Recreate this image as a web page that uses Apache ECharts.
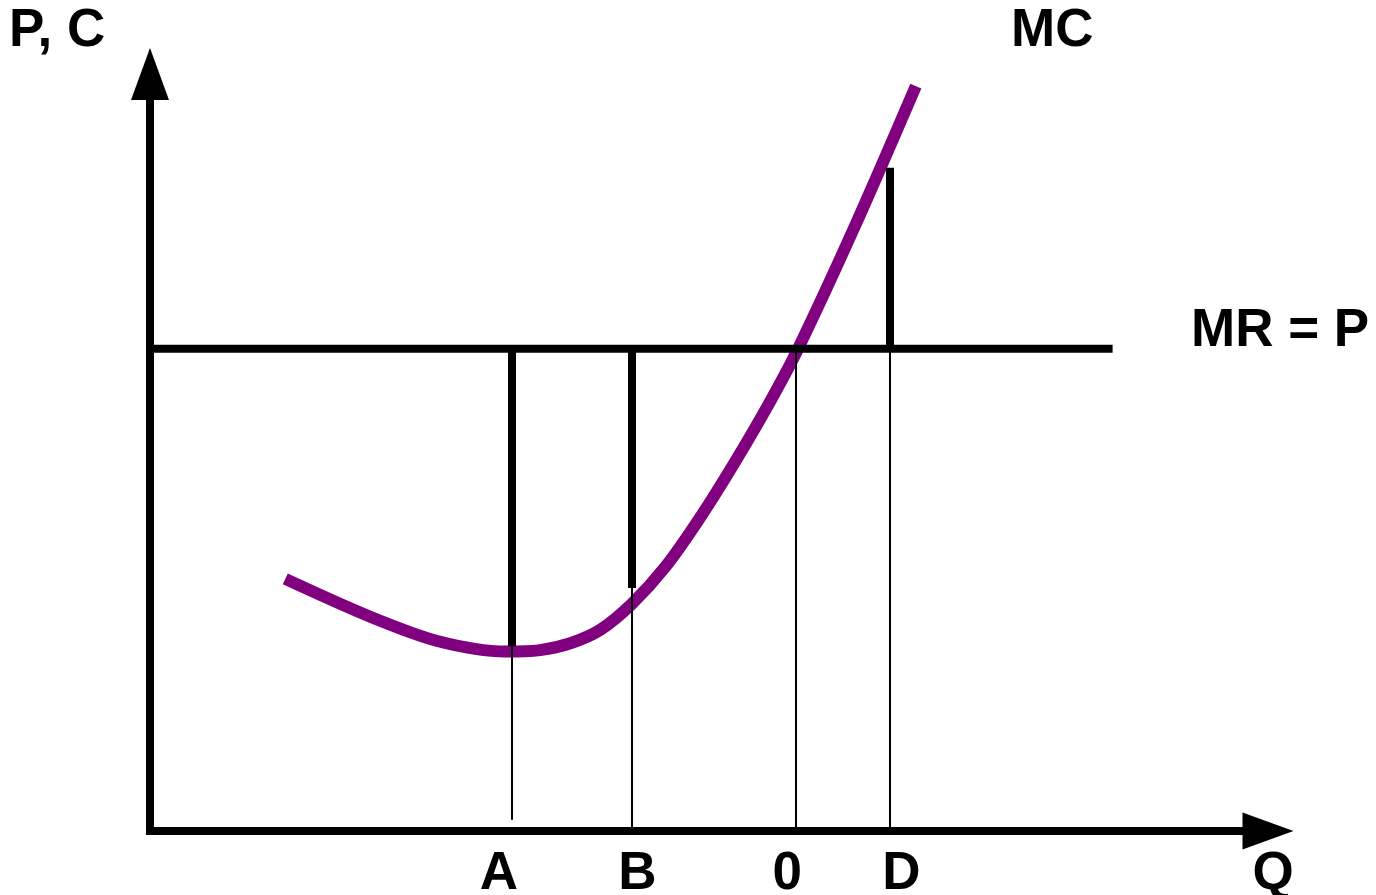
<!DOCTYPE html>
<html>
<head>
<meta charset="utf-8">
<script src="https://cdn.jsdelivr.net/npm/echarts@6/dist/echarts.min.js"></script>
<style>
  html, body { margin: 0; padding: 0; background: #ffffff; }
  #chart { width: 1376px; height: 895px; }
</style>
</head>
<body>
<div id="chart"></div>
<script>
// ---- data (chart units: Q and P both on 0..100 scales) ----
const mcQ = [12.1, 19.7, 25.7, 31.8, 34.9, 37.6, 40.3, 43.1, 46.1, 49.2, 52.3, 55.3, 57.96, 63.2, 68.5];
const mcP = [33.3, 28.3, 25.1, 23.7, 23.9, 24.8, 26.6, 30.0, 34.9, 41.4, 48.7, 56.3, 63.7, 80.4, 98.4];

const mrP = 63.7;
const mrQ = [0, 86.1];

const markNames = ['A', 'B', '0', 'D'];
const markQ = [32.4, 43.1, 57.8, 66.2];
const dropTop = [63.7, 63.7, 63.7, 87.6];   // upper end of thick segment
const dropMid = [24.4, 32.1, 63.7, 63.7];   // where thick turns into thin
const dropBottom = [1.5, 0, 0, 0];          // lower end of thin segment
const labelQ = [31.2, 43.6, 57.0, 67.2];

const yTitle = 'P, C';
const xTitle = 'Q';
const mcTitle = 'MC';
const mrTitle = 'MR = P';

// ---- build ----
const mcData = mcQ.map((q, i) => [q, mcP[i]]);
const thickData = markQ.map((q, i) => ({ coords: [[q, dropMid[i]], [q, dropTop[i]]] }))
  .filter((d, i) => dropTop[i] > dropMid[i]);
const thinData = markQ.map((q, i) => ({ coords: [[q, dropBottom[i]], [q, dropMid[i]]] }));
const labelData = labelQ.map((q, i) => ({ value: [q, 0], name: markNames[i] }));

const FONT = '"Liberation Sans", Arial, Helvetica, sans-serif';
const FS = 53;
const chart = echarts.init(document.getElementById('chart'), null, { renderer: 'canvas' });

chart.setOption({
  animation: false,
  backgroundColor: '#ffffff',
  grid: { left: 150, right: 108, top: 74, bottom: 64, containLabel: false },
  xAxis: {
    type: 'value', min: 0, max: 100,
    axisLine: { show: true, onZero: false, symbol: ['none', 'triangle'], symbolSize: [37, 51],
      lineStyle: { color: '#000', width: 8, cap: 'square' } },
    axisTick: { show: false }, axisLabel: { show: false }, splitLine: { show: false }
  },
  yAxis: {
    type: 'value', min: 0, max: 100,
    axisLine: { show: true, onZero: false, symbol: ['none', 'triangle'], symbolSize: [38, 52],
      lineStyle: { color: '#000', width: 8, cap: 'square' } },
    axisTick: { show: false }, axisLabel: { show: false }, splitLine: { show: false }
  },
  series: [
    {
      name: 'MC', type: 'line', data: mcData, smooth: 0.3, showSymbol: false, z: 2,
      lineStyle: { color: '#800080', width: 12, cap: 'butt' }
    },
    {
      name: 'MR', type: 'line', data: mrQ.map(q => [q, mrP]), showSymbol: false, z: 3,
      lineStyle: { color: '#000', width: 8 }
    },
    {
      name: 'thick', type: 'lines', coordinateSystem: 'cartesian2d', data: thickData, z: 4,
      lineStyle: { color: '#000', width: 8, opacity: 1 }
    },
    {
      name: 'thin', type: 'lines', coordinateSystem: 'cartesian2d', data: thinData, z: 4,
      lineStyle: { color: '#000', width: 2, opacity: 1 }
    },
    {
      name: 'labels', type: 'scatter', data: labelData, symbolSize: 1, z: 5,
      itemStyle: { opacity: 0 },
      label: { show: true, position: 'inside', offset: [0, 43], formatter: p => p.name, opacity: 1,
        fontFamily: FONT, fontWeight: 'bold', fontSize: FS, color: '#000000', textBorderWidth: 0 }
    }
  ],
  graphic: [
    { type: 'text', x: 9, y: 31, style: { text: yTitle, font: 'bold ' + FS + 'px ' + FONT, fill: '#000', textAlign: 'left', textVerticalAlign: 'middle' } },
    { type: 'text', x: 1011, y: 31, style: { text: mcTitle, font: 'bold ' + FS + 'px ' + FONT, fill: '#000', textAlign: 'left', textVerticalAlign: 'middle' } },
    { type: 'text', x: 1191, y: 331, style: { text: mrTitle, font: 'bold ' + FS + 'px ' + FONT, fill: '#000', textAlign: 'left', textVerticalAlign: 'middle' } },
    { type: 'text', x: 1273, y: 874, style: { text: xTitle, font: 'bold ' + FS + 'px ' + FONT, fill: '#000', textAlign: 'center', textVerticalAlign: 'middle' } }
  ]
});
</script>
</body>
</html>
